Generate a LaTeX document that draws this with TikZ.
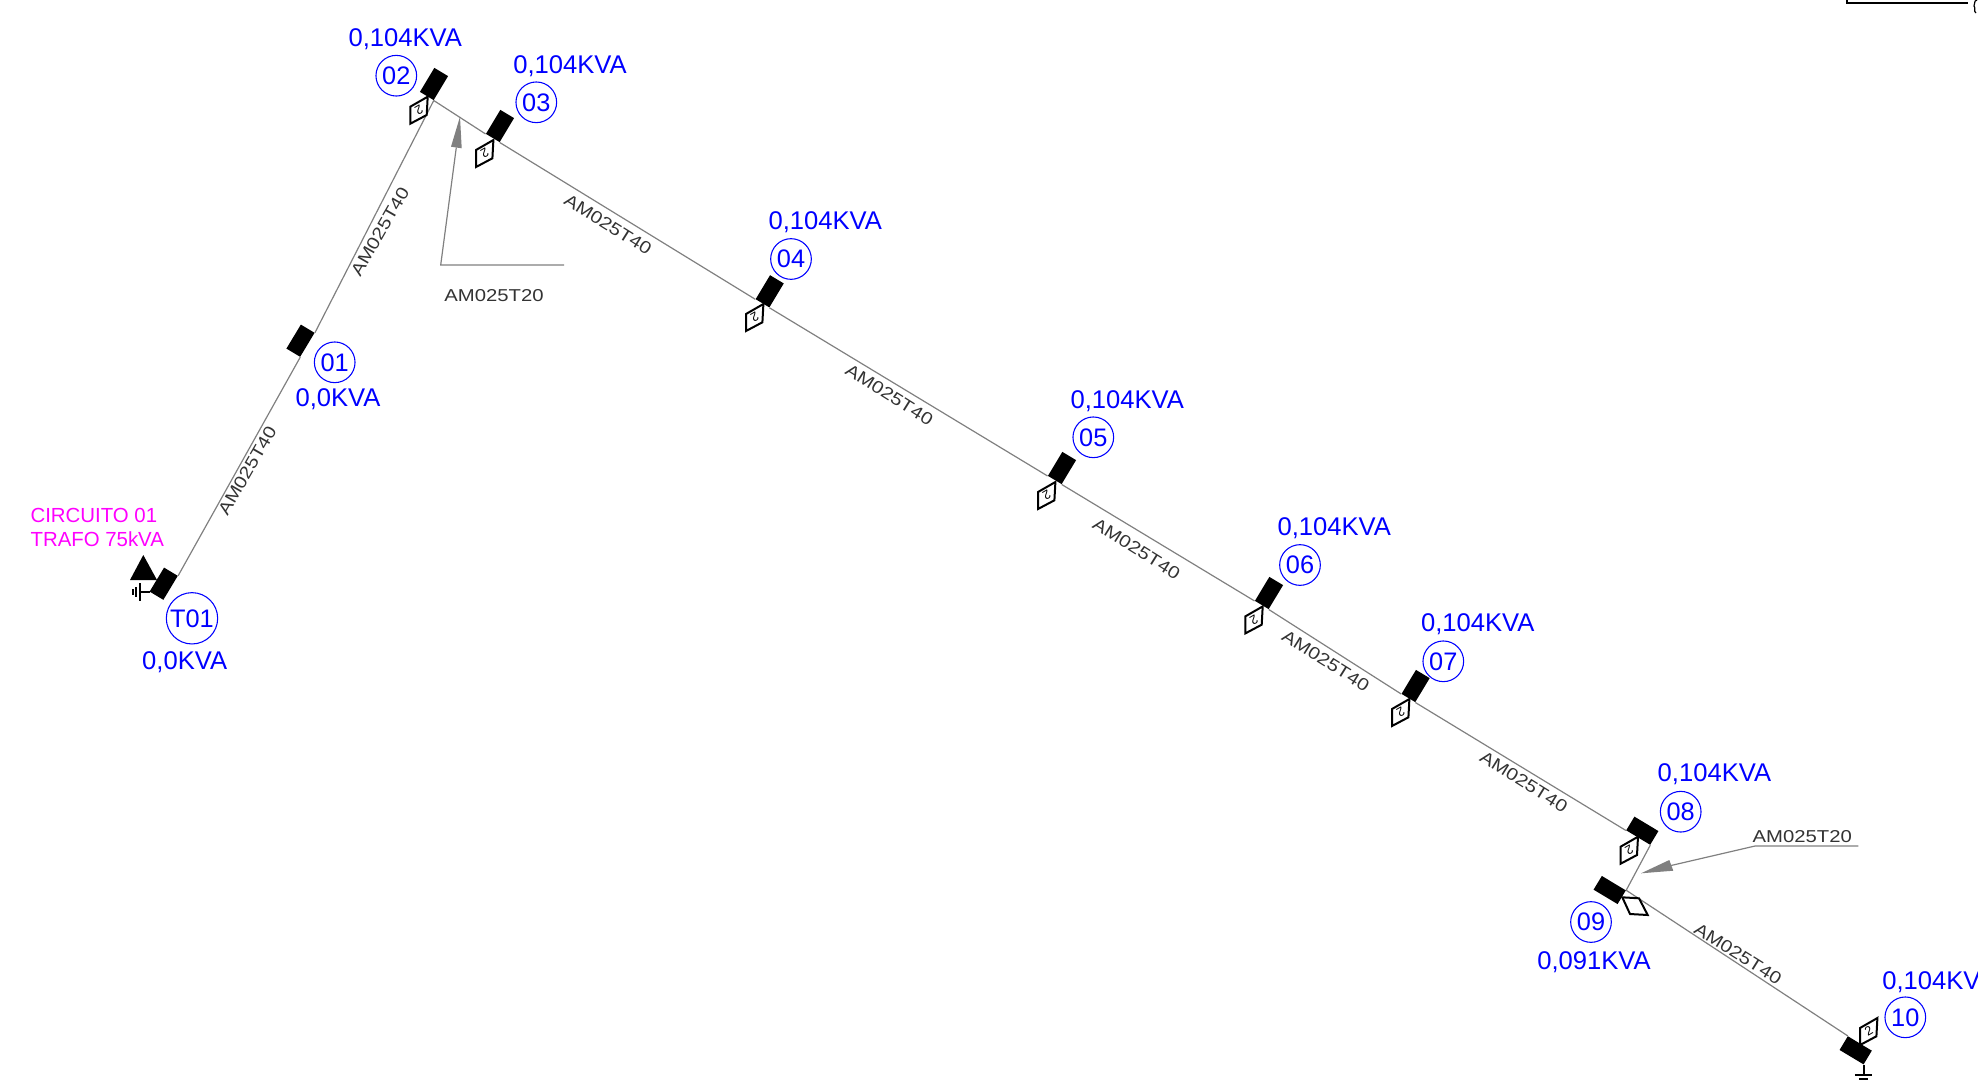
\documentclass[tikz,border=0pt]{standalone}
\usepackage{fontspec}
\usetikzlibrary{calc}
\setmainfont{Liberation Sans}
\newfontfamily\wirefont[FakeStretch=1.18]{Liberation Sans}
\definecolor{pureblue}{HTML}{0000FF}
\definecolor{puremag}{HTML}{FF00FF}
\definecolor{wire}{HTML}{808080}
\definecolor{lbl}{HTML}{333333}
\tikzset{
  polebox/.style={fill=black,draw=none,inner sep=0pt,minimum width=21pt,minimum height=12pt},
  numcirc/.style={circle,draw=pureblue,line width=0.8pt,text=pureblue,inner sep=0pt,minimum size=30.5pt,font=\fontsize{19}{20}\selectfont},
  loadtxt/.style={text=pureblue,inner sep=0pt,font=\fontsize{19.2}{20}\selectfont},
  wirelbl/.style={text=lbl,inner sep=0pt,font=\wirefont\fontsize{12.9}{14}\selectfont},
  circtxt/.style={text=puremag,inner sep=0pt,anchor=west,font=\fontsize{15.3}{17}\selectfont},
  wireline/.style={draw=wire,line width=0.9pt},
  leader/.style={draw=wire,line width=0.9pt},
  headfill/.style={fill=wire,draw=none},
  diabox/.style={draw=black,line width=1.5pt,line join=miter,fill=white},
  diatxt/.style={inner sep=0pt,font=\fontsize{9.5}{10}\selectfont},
  gnd/.style={draw=black,line width=1.3pt}
}
\newcommand{\mydia}[5]{% x y rot name
  \draw[diabox] (#1+8.7,#2-13.3) -- (#1+7.7,#2+5) -- (#1-8.7,#2+13.7) -- (#1-8.7,#2-3.3) -- cycle;
  \node[diatxt,rotate=#3] (#4) at (#1,#2) {#5};
}
\begin{document}
\begin{tikzpicture}[x=0.75pt,y=-0.75pt]
\useasboundingbox (0,0) rectangle (1978,1079);
\clip (0,0) rectangle (1978,1079);

% poles
\node[polebox,rotate=59] (T01) at (163.7,583.7) {};
\node[polebox,rotate=59] (p01) at (300.5,340.7) {};
\node[polebox,rotate=59] (p02) at (434,84) {};
\node[polebox,rotate=59] (p03) at (500,126) {};
\node[polebox,rotate=59] (p04) at (769.7,291.3) {};
\node[polebox,rotate=59] (p05) at (1062,468) {};
\node[polebox,rotate=59] (p06) at (1269,593) {};
\node[polebox,rotate=59] (p07) at (1415.6,686) {};
\node[polebox,rotate=-31] (p08) at (1642.3,830.7) {};
\node[polebox,rotate=-31] (p09) at (1609.7,890) {};
\node[polebox,rotate=-31] (p10) at (1855.7,1050.3) {};

% wires
\draw[wireline] (T01.south east) -- (p01.south west);
\draw[wireline] (p01.south east) -- (p02.south west);
\draw[wireline] (p02.south west) -- (p03.north west);
\draw[wireline] (p03.south west) -- (p04.north west);
\draw[wireline] (p04.south west) -- (p05.north west);
\draw[wireline] (p05.south west) -- (p06.north west);
\draw[wireline] (p06.south west) -- (p07.north west);
\draw[wireline] (p07.south west) -- (p08.south west);
\draw[wireline] (p08.south east) -- (p09.north east);
\draw[wireline] (p09.north east) -- (p10.north west);

% switch symbols
\mydia{419}{110}{-150}{d02}{2}
\mydia{484.7}{153.3}{-150}{d03}{2}
\mydia{754.7}{317.3}{-150}{d04}{2}
\mydia{1046.7}{495.3}{-150}{d05}{2}
\mydia{1254}{619.7}{-150}{d06}{2}
\mydia{1400.7}{712.3}{-150}{d07}{2}
\mydia{1629.3}{850}{-150}{d08}{2}
\mydia{1868.7}{1031.3}{30}{d10}{2}
\draw[diabox] (1622.3,897.3) -- (1639,898.3) -- (1647.7,915) -- (1630,914) -- cycle;

% circles
\node[numcirc,minimum size=38.5pt] (cT01) at (192,618.3) {T01};
\node[numcirc] (c01) at (334.7,362.3) {01};
\node[numcirc] (c02) at (396.3,75.7) {02};
\node[numcirc] (c03) at (536.3,102.3) {03};
\node[numcirc] (c04) at (791,259) {04};
\node[numcirc] (c05) at (1093.3,437.3) {05};
\node[numcirc] (c06) at (1300,565) {06};
\node[numcirc] (c07) at (1443.3,661.3) {07};
\node[numcirc] (c08) at (1680.7,811.7) {08};
\node[numcirc] (c09) at (1591,922) {09};
\node[numcirc] (c10) at (1905.3,1017.3) {10};

% loads
\node[loadtxt] (lT01) at (184.7,661.7) {0,0KVA};
\node[loadtxt] (l01) at (338,399.3) {0,0KVA};
\node[loadtxt] (l02) at (405.3,39.3) {0,104KVA};
\node[loadtxt] (l03) at (570,65.7) {0,104KVA};
\node[loadtxt] (l04) at (825.3,221.7) {0,104KVA};
\node[loadtxt] (l05) at (1127.3,400.7) {0,104KVA};
\node[loadtxt] (l06) at (1334.3,528.3) {0,104KVA};
\node[loadtxt] (l07) at (1477.7,624) {0,104KVA};
\node[loadtxt] (l08) at (1714.4,774.6) {0,104KVA};
\node[loadtxt] (l09) at (1594,961.7) {0,091KVA};
\node[loadtxt] (l10) at (1939,981.7) {0,104KVA};

% circuit label
\node[circtxt] (ct1) at (30.3,515) {CIRCUITO 01};
\node[circtxt] (ct2) at (30.3,539) {TRAFO 75kVA};

% transformer triangle and grounds
\fill[black] (143.3,555) -- (157,580) -- (130,580) -- cycle;
\draw[gnd] (p10.south east) -- ++(0,10.5) coordinate (g10);
\draw[gnd] ($(g10)+(-8.7,0)$) -- ($(g10)+(8.7,0)$);
\draw[gnd] ($(g10)+(-4.3,4)$) -- ($(g10)+(4.3,4)$);
\draw[gnd] (150,591.7) coordinate (gt0) -- (140,591.7) coordinate (gt1);
\draw[gnd] (140,583) -- (140,600.7);
\draw[gnd] (136,587) -- (136,596.7);
\draw[gnd] (132.7,589) -- (132.7,595);

% wire labels
\node[wirelbl,rotate=60] (w1) at (247.3,470.5) {AM025T40};
\node[wirelbl,rotate=60] (w2) at (380,231.7) {AM025T40};
\node[wirelbl,rotate=-32] (w3) at (608,224.5) {AM025T40};
\node[wirelbl,rotate=-32] (w4) at (889.4,394.8) {AM025T40};
\node[wirelbl,rotate=-32] (w5) at (1136.6,548.8) {AM025T40};
\node[wirelbl,rotate=-32] (w6) at (1325.8,661) {AM025T40};
\node[wirelbl,rotate=-32] (w7) at (1523.9,782) {AM025T40};
\node[wirelbl,rotate=-32] (w8) at (1738,954) {AM025T40};
\node[wirelbl] (w9) at (494,295.7) {AM025T20};
\node[wirelbl] (w10) at (1802.3,836.7) {AM025T20};

% leaders
\coordinate (a1) at (564,265);
\coordinate (a2) at (440.7,265);
\coordinate (a3) at (456.3,147.5);
\draw[leader] (a1) -- (a2) -- (a3);
\fill[headfill] (460,116.7) -- (461.7,148.3) -- (451,146.7) -- cycle;
\coordinate (b1) at (1858.3,846);
\coordinate (b2) at (1755,846);
\coordinate (b3) at (1671,865.5);
\draw[leader] (b1) -- (b2) -- (b3);
\fill[headfill] (1641,873.3) -- (1669.3,860) -- (1673.3,870.7) -- cycle;

% top right fragment
\draw[black,line width=1.2pt] (1846.7,0) -- (1846.7,2.7) -- (1968.3,2.7);
\draw[black,line width=0.9pt] (1977,0) .. controls (1973,1) and (1976,4) .. (1974,6) .. controls (1976,8) and (1973,11) .. (1976,13);
\end{tikzpicture}
\end{document}
